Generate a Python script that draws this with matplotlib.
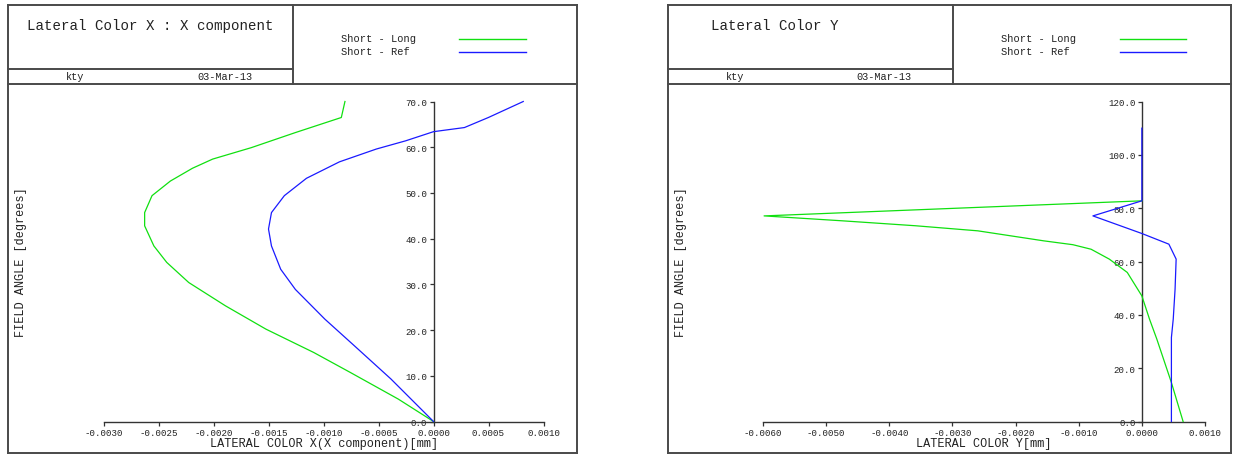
import matplotlib
matplotlib.use("Agg")
import matplotlib.pyplot as plt
from matplotlib.lines import Line2D
from matplotlib.ticker import FormatStrFormatter, MultipleLocator

# ---------------- data ----------------
x_long_angle = [0, 4.9, 10.7, 15.1, 20.2, 25.3, 30.4, 34.8, 38.4, 42.8, 45.7, 49.4,
                52.6, 55.4, 57.4, 59.9, 63.2, 66.5, 70]
x_long_val = [0, -0.00032, -0.000754, -0.001089, -0.001523, -0.001891, -0.002225,
              -0.002425, -0.002542, -0.002626, -0.002626, -0.002559, -0.002392,
              -0.002191, -0.002008, -0.001657, -0.001256, -0.000838, -0.000805]
x_ref_angle = [0, 9.3, 16.6, 22.4, 28.9, 33.3, 38.4, 42.1, 45.7, 49.4, 53.2, 56.8,
               59.6, 61.4, 63.4, 64.3, 66.5, 70]
x_ref_val = [0, -0.000387, -0.000721, -0.000988, -0.001256, -0.001389, -0.001473,
             -0.0015, -0.001473, -0.001356, -0.001155, -0.000855, -0.00052,
             -0.000253, 0, 0.000281, 0.000499, 0.000816]

y_long_angle = [0, 14.6, 30.9, 38.4, 47.1, 55.9, 60.9, 64.6, 66.3, 67.75, 71.5,
                73.4, 75.25, 77.1, 82.75]
y_long_val = [0.000653, 0.000468, 0.000237, 0.000121, 0, -0.000231, -0.000516,
              -0.000804, -0.001092, -0.001555, -0.002598, -0.003582, -0.004739,
              -0.005983, 0]
y_ref_angle = [0, 31.5, 38.4, 49.6, 60.9, 66.5, 70.5, 77.1, 82.75, 110]
y_ref_val = [0.000468, 0.000468, 0.000497, 0.000526, 0.000543, 0.000428, 0,
             -0.000775, 0, 0]

series_labels = ["Short - Long", "Short - Ref"]
titles = ["Lateral Color X : X component", "Lateral Color Y"]
xlabels = ["LATERAL COLOR X(X component)[mm]", "LATERAL COLOR Y[mm]"]
ylabel = "FIELD ANGLE [degrees]"
author = "kty"
date = "03-Mar-13"

GREEN = "#10e010"
BLUE = "#1a1aff"
FRAME = "#4a4a4a"
TXT = "#222222"
MONO = "Liberation Mono"

W, H = 1233, 456
fig = plt.figure(figsize=(W / 100, H / 100), dpi=100)
fig.patch.set_facecolor("white")


def fx(x):
    return x / W


def fy(y):
    return 1 - y / H


def hline(x0, x1, y, lw=1.4, c=FRAME):
    fig.add_artist(Line2D([fx(x0), fx(x1)], [fy(y), fy(y)], color=c, lw=lw,
                          transform=fig.transFigure))


def vline(x, y0, y1, lw=1.4, c=FRAME):
    fig.add_artist(Line2D([fx(x), fx(x)], [fy(y0), fy(y1)], color=c, lw=lw,
                          transform=fig.transFigure))


def text(x, y, s, size, ha="left", **kw):
    fig.text(fx(x), fy(y), s, fontsize=size, family=MONO, ha=ha, va="center",
             color=TXT, **kw)


panels = [
    dict(left=8, right=577, div=293, title_x=150, title_ha="center",
         kty_x=75, date_x=225, leg_x=341, leg_l0=459, leg_l1=526,
         ax_l=103.5, ax_r=543.5, xlim=(-0.003, 0.001), ylim=(0, 70),
         ystep=10, xstep=0.0005,
         data=[(x_long_val, x_long_angle), (x_ref_val, x_ref_angle)]),
    dict(left=668, right=1231, div=953, title_x=711, title_ha="left",
         kty_x=735, date_x=884, leg_x=1001, leg_l0=1120, leg_l1=1186,
         ax_l=763, ax_r=1205, xlim=(-0.006, 0.001), ylim=(0, 120),
         ystep=20, xstep=0.001,
         data=[(y_long_val, y_long_angle), (y_ref_val, y_ref_angle)]),
]

top, row, hdr, bottom = 6, 69.5, 85, 453.5
ax_top, ax_bot = 102.5, 422.5

for i, p in enumerate(panels):
    L, R, D = p["left"], p["right"], p["div"]
    # frame
    hline(L, R, top)
    hline(L, R, bottom)
    vline(L, top, bottom)
    vline(R, top, bottom)
    hline(L, R, hdr)
    vline(D, top, hdr)
    hline(L, D, row)
    # header texts
    text(p["title_x"], 26, titles[i], 10.2, ha=p["title_ha"])
    text(p["kty_x"], 77.5, author, 7.4, ha="center")
    text(p["date_x"], 77.5, date, 7.4, ha="center")
    # legend
    for j, (lab, col) in enumerate(zip(series_labels, [GREEN, BLUE])):
        yy = 39.5 + 13 * j
        text(p["leg_x"], yy, lab, 7.5)
        hline(p["leg_l0"], p["leg_l1"], yy, lw=1.0, c=col)

    # axes
    ax = fig.add_axes([fx(p["ax_l"]), fy(ax_bot), (p["ax_r"] - p["ax_l"]) / W,
                       (ax_bot - ax_top) / H])
    ax.set_facecolor("none")
    for (xv, yv), col, lab in zip(p["data"], [GREEN, BLUE], series_labels):
        ax.plot(xv, yv, color=col, lw=0.9, label=lab, clip_on=False, zorder=3)
    ax.set_xlim(*p["xlim"])
    ax.set_ylim(*p["ylim"])
    ax.spines["top"].set_visible(False)
    ax.spines["right"].set_visible(False)
    ax.spines["left"].set_position(("data", 0))
    ax.spines["bottom"].set_position(("data", 0))
    for s in ("left", "bottom"):
        ax.spines[s].set_color("#333333")
        ax.spines[s].set_linewidth(1.0)
        ax.spines[s].set_zorder(2)
    ax.xaxis.set_major_locator(MultipleLocator(p["xstep"]))
    ax.yaxis.set_major_locator(MultipleLocator(p["ystep"]))
    ax.xaxis.set_major_formatter(FormatStrFormatter("%.4f"))
    ax.yaxis.set_major_formatter(FormatStrFormatter("%.1f"))
    ax.tick_params(axis="both", direction="out", length=3, width=0.9,
                   colors="#333333", labelsize=6.6, pad=1.5)
    for lbl in ax.get_xticklabels() + ax.get_yticklabels():
        lbl.set_family(MONO)
        lbl.set_color(TXT)
    ax.set_xlabel(xlabels[i], family=MONO, fontsize=8.6, color=TXT, labelpad=0.0)
    # y label placed near the frame's left edge
    fig.text(fx(L + 13), fy(262), ylabel, rotation=90, family=MONO, fontsize=8.6,
             color=TXT, ha="center", va="center")

fig.savefig("out.png", dpi=100, facecolor="white")
